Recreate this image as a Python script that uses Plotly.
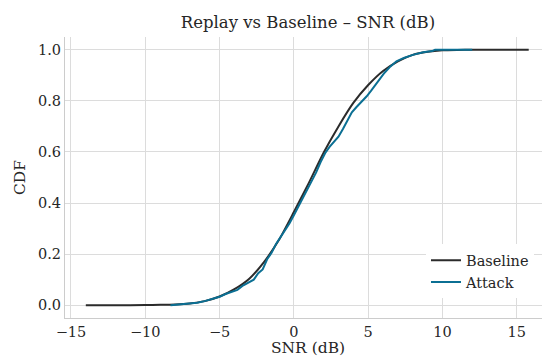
import plotly.graph_objects as go

baseline_snr = [-14.0, -12.0, -10.0, -9.0, -8.0, -7.0, -6.0, -5.0, -4.0, -3.0, -2.0, -1.0,
                0.0, 1.0, 2.0, 3.0, 4.0, 5.0, 6.0, 7.0, 8.0, 9.0, 10.0, 11.0, 12.0, 13.0, 14.0, 15.8]
baseline_cdf = [0.0, 0.0, 0.0005, 0.0015, 0.003, 0.007, 0.016, 0.034, 0.063, 0.104, 0.170, 0.256,
                0.365, 0.478, 0.597, 0.700, 0.792, 0.862, 0.917, 0.955, 0.980, 0.992, 0.998, 0.9995,
                1.0, 1.0, 1.0, 1.0]

attack_snr = [-8.3, -7.5, -7.0, -6.5, -6.0, -5.5, -5.0, -4.6, -4.2, -3.8, -3.4, -3.0, -2.7, -2.4,
              -2.1, -1.8, -1.5, -1.2, -0.9, -0.6, -0.3, 0.0, 0.3, 0.6, 0.9, 1.2, 1.5, 1.8, 2.1,
              2.4, 2.7, 3.0, 3.3, 3.6, 3.9, 4.2, 4.5, 4.9, 5.2, 5.5, 5.8, 6.1, 6.5, 6.9, 7.4,
              8.0, 8.7, 9.3, 9.5, 12.0]
attack_cdf = [0.0, 0.004, 0.006, 0.010, 0.016, 0.024, 0.033, 0.044, 0.052, 0.060, 0.078, 0.090,
              0.100, 0.125, 0.140, 0.180, 0.205, 0.240, 0.265, 0.290, 0.320, 0.352, 0.385, 0.420,
              0.450, 0.485, 0.520, 0.560, 0.595, 0.620, 0.640, 0.660, 0.690, 0.722, 0.755, 0.775,
              0.792, 0.818, 0.840, 0.865, 0.885, 0.910, 0.935, 0.955, 0.968, 0.980, 0.990, 0.995,
              1.0, 1.0]

x_tickvals = [-15, -10, -5, 0, 5, 10, 15]
x_ticktext = ["\u221215", "\u221210", "\u22125", "0", "5", "10", "15"]
y_tickvals = [0.0, 0.2, 0.4, 0.6, 0.8, 1.0]
y_ticktext = ["0.0", "0.2", "0.4", "0.6", "0.8", "1.0"]

FONT = "DejaVu Serif"
TXT = "#262626"

fig = go.Figure()
fig.add_trace(go.Scatter(x=baseline_snr, y=baseline_cdf, mode="lines", name="Baseline",
                         line=dict(color="#2b2b2b", width=2, shape="spline", smoothing=0.6)))
fig.add_trace(go.Scatter(x=attack_snr, y=attack_cdf, mode="lines", name="Attack",
                         line=dict(color="#0b6f93", width=2)))

fig.update_layout(
    width=550, height=359,
    margin=dict(l=57, r=7, t=29, b=49),
    paper_bgcolor="white", plot_bgcolor="white",
    font=dict(family=FONT, size=14.5, color=TXT),
    title=dict(text="Replay vs Baseline \u2013 SNR (dB)", x=0.5, xref="paper",
               y=1 - 14 / 359, yref="container", yanchor="middle",
               font=dict(family=FONT, size=16.5, color=TXT)),
    showlegend=True,
    legend=dict(x=0.965, y=0.07, xanchor="right", yanchor="bottom",
                bgcolor="white", borderwidth=0, font=dict(family=FONT, size=14.5, color=TXT)),
)
fig.update_xaxes(range=[-15.4, 17.3], tickvals=x_tickvals, ticktext=x_ticktext,
                 showgrid=True, gridcolor="#dcdcdc", gridwidth=1, zeroline=False,
                 showline=True, linecolor="#cccccc", linewidth=1.2, mirror=False,
                 ticks="", tickfont=dict(size=14.5),
                 title=dict(text="SNR (dB)", standoff=0, font=dict(size=15.5)))
fig.update_yaxes(range=[-0.05, 1.05], tickvals=y_tickvals, ticktext=y_ticktext,
                 showgrid=True, gridcolor="#dcdcdc", gridwidth=1, zeroline=False,
                 showline=True, linecolor="#cccccc", linewidth=1.2, mirror=False,
                 ticks="", tickfont=dict(size=14.5),
                 title=dict(text="CDF", standoff=8, font=dict(size=15.5)))

fig.write_html("out.html")
